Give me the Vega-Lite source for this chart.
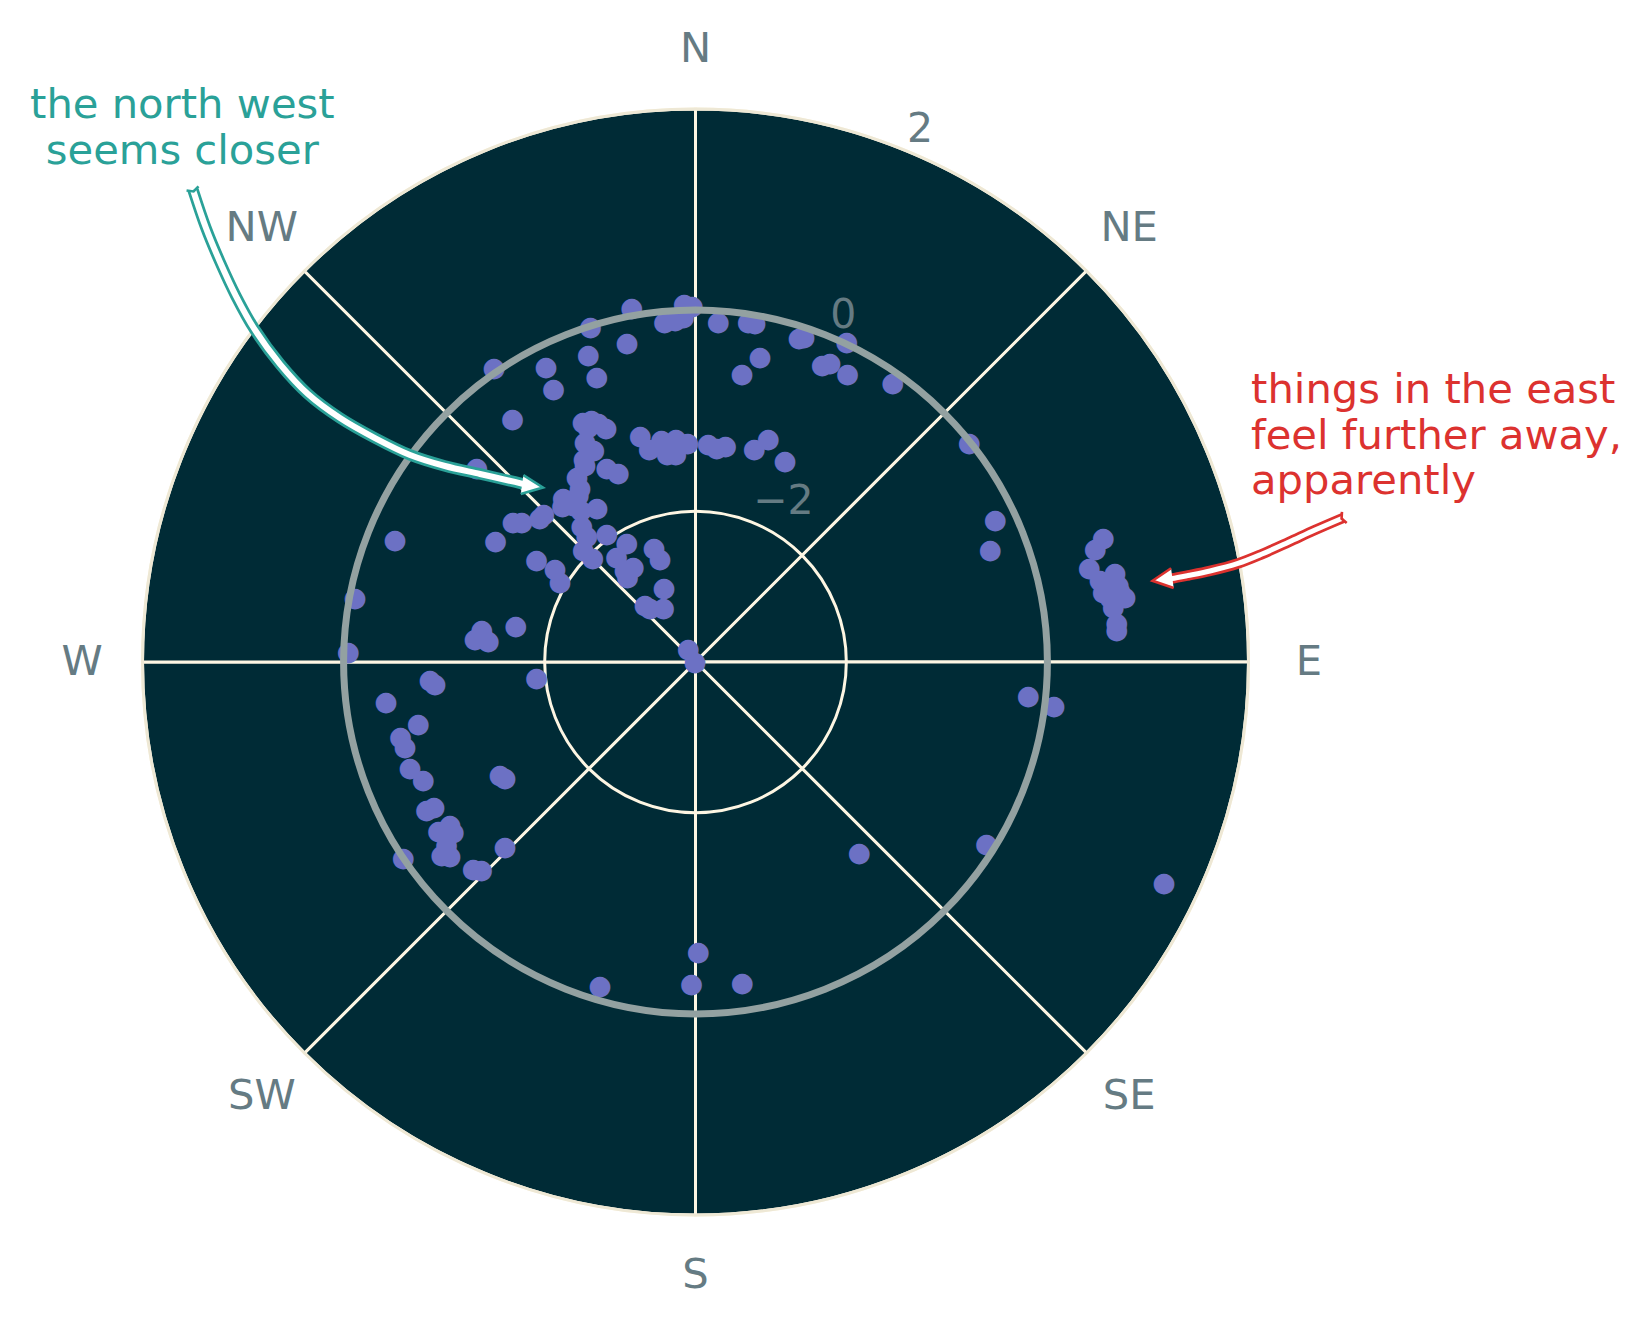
{
  "$schema": "https://vega.github.io/schema/vega-lite/v6.json",
  "width": 1391,
  "height": 1324,
  "autosize": {"type": "none"},
  "padding": {"left": 0, "top": 0, "right": 259, "bottom": 1},
  "background": "white",
  "config": {"view": {"stroke": null}, "font": "DejaVu Sans"},
  "datasets": {
    "points": [{"theta":349.8,"r":0.08},{"theta":358.2,"r":0.062},{"theta":359.5,"r":0.041},{"theta":354.8,"r":-0.101},{"theta":356.6,"r":-0.093},{"theta":358.0,"r":-0.07},{"theta":3.84,"r":-0.113},{"theta":8.82,"r":-0.075},{"theta":9.95,"r":-0.077},{"theta":17.73,"r":-0.12},{"theta":18.46,"r":-0.093},{"theta":25.27,"r":0.023},{"theta":347.9,"r":-0.256},{"theta":11.95,"r":-0.402},{"theta":9.18,"r":-0.602},{"theta":23.1,"r":-0.288},{"theta":24.22,"r":-0.239},{"theta":27.85,"r":-0.264},{"theta":35.28,"r":-0.104},{"theta":342.6,"r":-0.012},{"theta":340.75,"r":-0.266},{"theta":340.9,"r":-0.502},{"theta":333.1,"r":-0.213},{"theta":325.55,"r":0.043},{"theta":332.5,"r":-0.441},{"theta":323.0,"r":-0.478},{"theta":334.9,"r":-0.865},{"theta":336.75,"r":-0.88},{"theta":337.9,"r":-0.934},{"theta":339.1,"r":-1.008},{"theta":335.4,"r":-0.93},{"theta":346.3,"r":-1.186},{"theta":347.75,"r":-1.335},{"theta":351.3,"r":-1.271},{"theta":355.0,"r":-1.276},{"theta":357.96,"r":-1.324},{"theta":352.3,"r":-1.412},{"theta":354.6,"r":-1.422},{"theta":352.7,"r":-1.335},{"theta":3.37,"r":-1.333},{"theta":5.67,"r":-1.365},{"theta":7.91,"r":-1.331},{"theta":15.45,"r":-1.305},{"theta":18.1,"r":-1.17},{"theta":24.0,"r":-1.312},{"theta":333.3,"r":-1.056},{"theta":334.4,"r":-1.159},{"theta":331.2,"r":-1.197},{"theta":330.7,"r":-1.253},{"theta":335.4,"r":-1.378},{"theta":337.75,"r":-1.472},{"theta":327.3,"r":-1.319},{"theta":326.4,"r":-1.425},{"theta":324.9,"r":-1.471},{"theta":321.2,"r":-1.401},{"theta":319.5,"r":-1.463},{"theta":322.1,"r":-1.522},{"theta":323.0,"r":-1.607},{"theta":327.35,"r":-1.684},{"theta":314.3,"r":-1.393},{"theta":312.7,"r":-1.394},{"theta":307.55,"r":-1.21},{"theta":308.85,"r":-1.28},{"theta":320.2,"r":-1.733},{"theta":319.1,"r":-1.847},{"theta":325.3,"r":-1.952},{"theta":314.95,"r":-1.923},{"theta":315.25,"r":-2.048},{"theta":329.9,"r":-2.135},{"theta":323.0,"r":-2.193},{"theta":326.7,"r":-2.373},{"theta":322.4,"r":-2.351},{"theta":321.2,"r":-2.421},{"theta":340.1,"r":-2.289},{"theta":340.9,"r":-2.419},{"theta":336.9,"r":-2.703},{"theta":318.7,"r":-2.739},{"theta":319.7,"r":-2.8},{"theta":329.35,"r":-2.876},{"theta":302.7,"r":-1.621},{"theta":303.4,"r":-1.827},{"theta":300.6,"r":-1.935},{"theta":301.2,"r":-1.175},{"theta":311.5,"r":-0.595},{"theta":292.1,"r":-0.275},{"theta":280.7,"r":-0.053},{"theta":330.45,"r":-3.355},{"theta":300,"r":-3.494},{"theta":271.65,"r":-0.046},{"theta":281.3,"r":-1.676},{"theta":278.6,"r":-1.349},{"theta":275.9,"r":-1.295},{"theta":275.9,"r":-1.428},{"theta":277.0,"r":-1.371},{"theta":264.25,"r":-1.911},{"theta":266.1,"r":-0.853},{"theta":265.2,"r":-0.9},{"theta":262.6,"r":-0.396},{"theta":257.3,"r":-0.674},{"theta":255.7,"r":-0.473},{"theta":253.75,"r":-0.49},{"theta":249.6,"r":-0.47},{"theta":246.6,"r":-0.549},{"theta":240.0,"r":-1.254},{"theta":238.7,"r":-1.282},{"theta":241.2,"r":-0.448},{"theta":241.0,"r":-0.527},{"theta":236.7,"r":-0.441},{"theta":236.4,"r":-0.569},{"theta":235.0,"r":-0.559},{"theta":235.5,"r":-0.495},{"theta":233.7,"r":-0.428},{"theta":232.75,"r":-0.329},{"theta":231.7,"r":-0.388},{"theta":236.1,"r":0.001},{"theta":227.0,"r":-0.477},{"theta":225.8,"r":-0.533},{"theta":225.9,"r":-0.861},{"theta":196.4,"r":-0.141},{"theta":180.7,"r":-0.294},{"theta":179.45,"r":-0.613},{"theta":171.7,"r":-0.271},{"theta":139.45,"r":-0.996},{"theta":122.0,"r":-0.086},{"theta":115.3,"r":1.653},{"theta":51.3,"r":-0.011},{"theta":64.7,"r":-0.202},{"theta":69.25,"r":-0.364},{"theta":73.11,"r":0.739},{"theta":74.25,"r":0.631},{"theta":76.62,"r":0.526},{"theta":78.54,"r":0.605},{"theta":79.16,"r":0.677},{"theta":78.06,"r":0.765},{"theta":79.68,"r":0.775},{"theta":80.22,"r":0.616},{"theta":81.09,"r":0.673},{"theta":81.46,"r":0.82},{"theta":80.5,"r":0.781},{"theta":82.5,"r":0.691},{"theta":84.75,"r":0.707},{"theta":85.66,"r":0.701},{"theta":95.83,"r":-0.173},{"theta":97.0,"r":0.093}],
    "sectors": [{"dir":"N","a":0,"a2":45},{"dir":"NE","a":45,"a2":90},{"dir":"E","a":90,"a2":135},{"dir":"SE","a":135,"a2":180},{"dir":"S","a":180,"a2":225},{"dir":"SW","a":225,"a2":270},{"dir":"W","a":270,"a2":315},{"dir":"NW","a":315,"a2":360}],
    "rticks": [{"r":-2,"label":"−2"},{"r":0,"label":"0"},{"r":2,"label":"2"}],
    "teal_arrow": [{"i":0,"x":0.0457,"y":0.9268},{"i":1,"x":0.0574,"y":0.8924},{"i":2,"x":0.0701,"y":0.8617},{"i":3,"x":0.0845,"y":0.8309},{"i":4,"x":0.1017,"y":0.8002},{"i":5,"x":0.1243,"y":0.7694},{"i":6,"x":0.1496,"y":0.7423},{"i":7,"x":0.1786,"y":0.7206},{"i":8,"x":0.2102,"y":0.7025},{"i":9,"x":0.2419,"y":0.6872},{"i":10,"x":0.2735,"y":0.6772},{"i":11,"x":0.3052,"y":0.67},{"i":12,"x":0.3368,"y":0.6628},{"i":13,"x":0.3481,"y":0.66}],
    "teal_head": [{"x":0.3526,"y":0.6591}],
    "teal_tail": [{"x":0.0457,"y":0.9268}],
    "red_arrow": [{"i":0,"x":0.9268,"y":0.575},{"i":1,"x":0.9309,"y":0.5755},{"i":2,"x":0.9453,"y":0.5782},{"i":3,"x":0.9652,"y":0.5823},{"i":4,"x":0.9905,"y":0.5891},{"i":5,"x":1.0122,"y":0.5976},{"i":6,"x":1.0366,"y":0.6085},{"i":7,"x":1.0601,"y":0.6193},{"i":8,"x":1.0854,"y":0.6302}],
    "red_head": [{"x":0.9222,"y":0.5746}],
    "red_tail": [{"x":1.0854,"y":0.6302}]
  },
  "layer": [
    {
      "data": {"name": "sectors"},
      "mark": {"type": "arc", "fill": "#002b36", "stroke": "#fdf6e3", "strokeWidth": 3},
      "encoding": {
        "theta": {"field": "a", "type": "quantitative", "stack": null, "scale": {"type": "linear", "domain": [0, 360], "range": [0, 6.283185307179586], "zero": false, "nice": false}},
        "theta2": {"field": "a2"},
        "radius": {"datum": 2, "type": "quantitative", "scale": {"type": "linear", "domain": [-3.5, 2], "range": [0, 553], "zero": false, "nice": false}},
        "radius2": {"datum": -3.5}
      }
    },
    {
      "data": {"values": [{"ring": -2}]},
      "mark": {"type": "arc", "filled": false, "stroke": "#fdf6e3", "strokeWidth": 3},
      "encoding": {
        "theta": {"datum": 0, "type": "quantitative"},
        "theta2": {"datum": 360},
        "radius": {"field": "ring", "type": "quantitative"},
        "radius2": {"datum": -3.5}
      }
    },
    {
      "data": {"name": "points"},
      "mark": {"type": "text", "text": "●", "font": "DejaVu Sans", "fontSize": 27, "color": "#6c71c4", "align": "center", "baseline": "middle"},
      "encoding": {
        "theta": {"field": "theta", "type": "quantitative"},
        "radius": {"field": "r", "type": "quantitative"}
      }
    },
    {
      "data": {"values": [{"ring": 0}]},
      "mark": {"type": "arc", "filled": false, "stroke": "#93a1a1", "strokeWidth": 7},
      "encoding": {
        "theta": {"datum": 0, "type": "quantitative"},
        "theta2": {"datum": 360},
        "radius": {"field": "ring", "type": "quantitative"},
        "radius2": {"datum": -3.5}
      }
    },
    {
      "data": {"values": [{"ring": 2}]},
      "mark": {"type": "arc", "filled": false, "stroke": "#eee8d5", "strokeWidth": 3},
      "encoding": {
        "theta": {"datum": 0, "type": "quantitative"},
        "theta2": {"datum": 360},
        "radius": {"field": "ring", "type": "quantitative"},
        "radius2": {"datum": -3.5}
      }
    },
    {
      "data": {"name": "rticks"},
      "mark": {"type": "text", "font": "DejaVu Sans", "fontSize": 41, "color": "#657b83", "align": "left", "baseline": "bottom"},
      "encoding": {
        "theta": {"datum": 22.5, "type": "quantitative"},
        "radius": {"field": "r", "type": "quantitative"},
        "text": {"field": "label"}
      }
    },
    {
      "data": {"name": "sectors"},
      "mark": {"type": "text", "font": "DejaVu Sans", "fontSize": 41.7, "color": "#657b83", "align": "center", "baseline": "middle"},
      "encoding": {
        "theta": {"field": "a", "type": "quantitative"},
        "radius": {"datum": 2.6, "type": "quantitative"},
        "text": {"field": "dir"}
      }
    },
    {
      "data": {"name": "teal_arrow"},
      "mark": {"type": "line", "color": "#2aa198", "strokeWidth": 11.5, "interpolate": "catmull-rom", "strokeCap": "butt"},
      "encoding": {
        "x": {"field": "x", "type": "quantitative", "axis": null, "scale": {"domain": [-0.12884, 1.12884], "nice": false, "zero": false}},
        "y": {"field": "y", "type": "quantitative", "axis": null, "scale": {"domain": [-0.09855, 1.09855], "nice": false, "zero": false}},
        "order": {"field": "i"}
      }
    },
    {
      "data": {"name": "teal_arrow"},
      "mark": {"type": "line", "color": "#ffffff", "strokeWidth": 6, "interpolate": "catmull-rom", "strokeCap": "butt"},
      "encoding": {
        "x": {"field": "x", "type": "quantitative"},
        "y": {"field": "y", "type": "quantitative"},
        "order": {"field": "i"}
      }
    },
    {
      "data": {"name": "teal_tail"},
      "mark": {"type": "point", "shape": "M -1 -0.25 L 0 0.25 L 1 -0.25", "filled": false, "stroke": "#2aa198", "strokeWidth": 2.6, "size": 160, "angle": -19, "opacity": 1},
      "encoding": {
        "x": {"field": "x", "type": "quantitative"},
        "y": {"field": "y", "type": "quantitative"}
      }
    },
    {
      "data": {"name": "teal_head"},
      "mark": {"type": "point", "shape": "M -1 -0.9 L 1 0 L -1 0.9", "filled": true, "fill": "#ffffff", "stroke": "#2aa198", "strokeWidth": 2.6, "size": 441, "angle": 8, "opacity": 1},
      "encoding": {
        "x": {"field": "x", "type": "quantitative"},
        "y": {"field": "y", "type": "quantitative"}
      }
    },
    {
      "data": {"name": "red_arrow"},
      "mark": {"type": "line", "color": "#dc322f", "strokeWidth": 10.5, "interpolate": "catmull-rom", "strokeCap": "butt"},
      "encoding": {
        "x": {"field": "x", "type": "quantitative"},
        "y": {"field": "y", "type": "quantitative"},
        "order": {"field": "i"}
      }
    },
    {
      "data": {"name": "red_arrow"},
      "mark": {"type": "line", "color": "#ffffff", "strokeWidth": 5, "interpolate": "catmull-rom", "strokeCap": "butt"},
      "encoding": {
        "x": {"field": "x", "type": "quantitative"},
        "y": {"field": "y", "type": "quantitative"},
        "order": {"field": "i"}
      }
    },
    {
      "data": {"name": "red_tail"},
      "mark": {"type": "point", "shape": "M -1 -0.25 L 0 0.25 L 1 -0.25", "filled": false, "stroke": "#dc322f", "strokeWidth": 2.6, "size": 144, "angle": 66.8, "opacity": 1},
      "encoding": {
        "x": {"field": "x", "type": "quantitative"},
        "y": {"field": "y", "type": "quantitative"}
      }
    },
    {
      "data": {"name": "red_head"},
      "mark": {"type": "point", "shape": "M -1 -1 L 1 0 L -1 1", "filled": true, "fill": "#ffffff", "stroke": "#dc322f", "strokeWidth": 2.6, "size": 400, "angle": 172.5, "opacity": 1},
      "encoding": {
        "x": {"field": "x", "type": "quantitative"},
        "y": {"field": "y", "type": "quantitative"}
      }
    },
    {
      "data": {"values": [{"note": "the north west\nseems closer", "x": 0.036, "y": 0.9916}]},
      "mark": {"type": "text", "font": "DejaVu Sans", "fontSize": 41.7, "color": "#2aa198", "align": "center", "baseline": "alphabetic", "lineBreak": "\n", "lineHeight": 45.5},
      "encoding": {
        "x": {"field": "x", "type": "quantitative"},
        "y": {"field": "y", "type": "quantitative"},
        "text": {"field": "note"}
      }
    },
    {
      "data": {"values": [{"note": "things in the east\nfeel further away,\napparently", "x": 1.0023, "y": 0.7339}]},
      "mark": {"type": "text", "font": "DejaVu Sans", "fontSize": 41.7, "color": "#dc322f", "align": "left", "baseline": "alphabetic", "lineBreak": "\n", "lineHeight": 45.5},
      "encoding": {
        "x": {"field": "x", "type": "quantitative"},
        "y": {"field": "y", "type": "quantitative"},
        "text": {"field": "note"}
      }
    }
  ]
}
